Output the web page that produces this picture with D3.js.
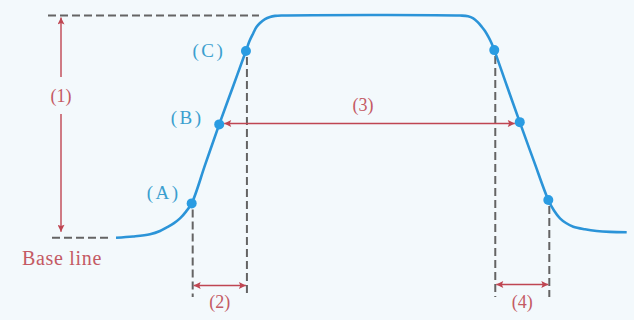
<!DOCTYPE html>
<html>
<head>
<meta charset="utf-8">
<script src="https://cdn.jsdelivr.net/npm/d3@7"></script>
<style>
  html, body { margin: 0; padding: 0; background: #f3f9fc; }
  svg { display: block; }
</style>
</head>
<body>
<svg width="634" height="320"></svg>
<script>
// pulse shape, time in arbitrary units, level in % of full amplitude
const times  = [0, 3.33, 6.66, 8.62, 9.93, 11.36, 12.53, 13.71, 14.82, 17.51, 20.21, 22.83, 25.44,
                26.14, 26.88, 27.51, 28.2, 29.18, 30.16, 31.14, 32.51,
                67.36, 68.93, 69.96, 70.78, 71.61, 72.25, 72.9, 73.52, 74.07,
                76.55, 79.06, 81.83, 84.65, 85.76, 86.94, 88.11, 89.54, 91.83, 94.12, 96.7, 100]
const levels = [0, 0.54, 1.53, 3.01, 4.64, 6.57, 8.69, 11.75, 15.44, 33.2, 51, 67.5, 84,
                88.52, 92.03, 94.82, 96.62, 98.42, 99.37, 99.82, 100,
                100, 99.68, 98.74, 97.16, 94.96, 93.02, 90.46, 87.62, 84.43,
                68.25, 52, 34.45, 16.97, 12.24, 8.73, 6.62, 4.95, 3.78, 3.02, 2.61, 2.43]

// marked points on the edges
const markNames  = ['(A)', '(B)', '(C)', '', '', '']
const markTimes  = [14.82, 20.21, 25.44, 74.07, 79.06, 84.65]
const markLevels = [15.44, 51, 84, 84.43, 52, 16.97]

const width = 634,
  height = 320

const blue = '#2b94d8',
  dotBlue = '#2a9ce2',
  labelBlue = '#3b9fcf',
  red = '#bf4652',
  redText = '#c45a64',
  gray = '#646464'

const svg = d3.select('svg')

svg.append('rect')
  .attr('width', width)
  .attr('height', height)
  .attr('fill', '#f3f9fc')

const x = d3.scaleLinear().domain([0, 100]).range([116, 626.7])
const y = d3.scaleLinear().domain([0, 100]).range([237.7, 15.5])

const pulse = times.map((t, i) => ({t: t, v: levels[i]}))
const marks = markTimes.map((t, i) => ({name: markNames[i], t: t, v: markLevels[i]}))

// label offsets from their dot, px
const labelOffset = [[-28, -11], [-32, -7], [-37, -1]]

// arrow heads
const defs = svg.append('defs')
defs.append('marker')
  .attr('id', 'head')
  .attr('viewBox', '0 0 10 10')
  .attr('refX', 10)
  .attr('refY', 5)
  .attr('markerWidth', 10)
  .attr('markerHeight', 7)
  .attr('markerUnits', 'userSpaceOnUse')
  .attr('orient', 'auto-start-reverse')
  .append('path')
  .attr('d', 'M0,0L10,5L0,10L2,5Z')
  .attr('fill', red)

const dashed = (x1, y1, x2, y2) => svg.append('line')
  .attr('x1', x1).attr('y1', y1)
  .attr('x2', x2).attr('y2', y2)
  .attr('stroke', gray)
  .attr('stroke-width', 2)
  .attr('stroke-dasharray', '8,4')

const arrow = (x1, y1, x2, y2) => svg.append('line')
  .attr('x1', x1).attr('y1', y1)
  .attr('x2', x2).attr('y2', y2)
  .attr('stroke', red)
  .attr('stroke-width', 1.4)
  .attr('marker-end', 'url(#head)')
  .attr('marker-start', 'url(#head)')

const label = (text, cx, cy, colour, size, spacing) => svg.append('text')
  .attr('x', cx)
  .attr('y', cy)
  .attr('dy', '0.35em')
  .attr('text-anchor', 'middle')
  .attr('font-family', '"Liberation Serif", "DejaVu Serif", serif')
  .attr('font-size', size)
  .attr('letter-spacing', spacing)
  .attr('fill', colour)
  .text(text)

// top and base reference lines
dashed(48, y(100), 259, y(100))
dashed(52, y(0), 112, y(0))

// (1) amplitude
const ampX = 61
svg.append('line')
  .attr('x1', ampX).attr('y1', y(100) + 2)
  .attr('x2', ampX).attr('y2', 77)
  .attr('stroke', red).attr('stroke-width', 1.4)
  .attr('marker-start', 'url(#head)')
svg.append('line')
  .attr('x1', ampX).attr('y1', 114)
  .attr('x2', ampX).attr('y2', y(0) - 6)
  .attr('stroke', red).attr('stroke-width', 1.4)
  .attr('marker-end', 'url(#head)')
label('(1)', ampX, 96, redText, 18, 0)

label('Base line', 62, 258, redText, 20, 0.7)

// vertical guides below the 10% / 90% points
const bottom = 297
const guides = [marks[0], marks[2], marks[3], marks[5]]
svg.selectAll('.guide')
  .data(guides)
  .enter().append('line')
  .attr('class', 'guide')
  .attr('x1', d => x(d.t) + 1)
  .attr('y1', d => y(d.v) + 6)
  .attr('x2', d => x(d.t) + 1)
  .attr('y2', bottom)
  .attr('stroke', gray)
  .attr('stroke-width', 2)
  .attr('stroke-dasharray', '8,4')

// (2) rise time, (4) fall time
arrow(x(marks[0].t) + 2, 285.5, x(marks[2].t), 285.5)
label('(2)', (x(marks[0].t) + x(marks[2].t)) / 2 + 1, 302, redText, 18, 0)
arrow(x(marks[3].t) + 2, 284.5, x(marks[5].t), 284.5)
label('(4)', (x(marks[3].t) + x(marks[5].t)) / 2 + 1, 302, redText, 18, 0)

// (3) pulse width at 50%
arrow(x(marks[1].t) + 5, 123.5, x(marks[4].t) - 5, 123.5)
label('(3)', 363, 105, redText, 18, 0)

// pulse
const line = d3.line()
  .x(d => x(d.t))
  .y(d => y(d.v))
  .curve(d3.curveCatmullRom.alpha(0.5))

svg.append('path')
  .datum(pulse)
  .attr('d', line)
  .attr('fill', 'none')
  .attr('stroke', blue)
  .attr('stroke-width', 2.6)

svg.selectAll('.dot')
  .data(marks)
  .enter().append('circle')
  .attr('class', 'dot')
  .attr('cx', d => x(d.t))
  .attr('cy', d => y(d.v))
  .attr('r', 5)
  .attr('fill', dotBlue)

svg.selectAll('.mark-label')
  .data(marks.filter(d => d.name))
  .enter().append('text')
  .attr('class', 'mark-label')
  .attr('x', (d, i) => x(d.t) + labelOffset[i][0])
  .attr('y', (d, i) => y(d.v) + labelOffset[i][1])
  .attr('dy', '0.35em')
  .attr('text-anchor', 'middle')
  .attr('font-family', '"Liberation Serif", "DejaVu Serif", serif')
  .attr('font-size', 19)
  .attr('letter-spacing', 2.5)
  .attr('fill', labelBlue)
  .text(d => d.name)
</script>
</body>
</html>
